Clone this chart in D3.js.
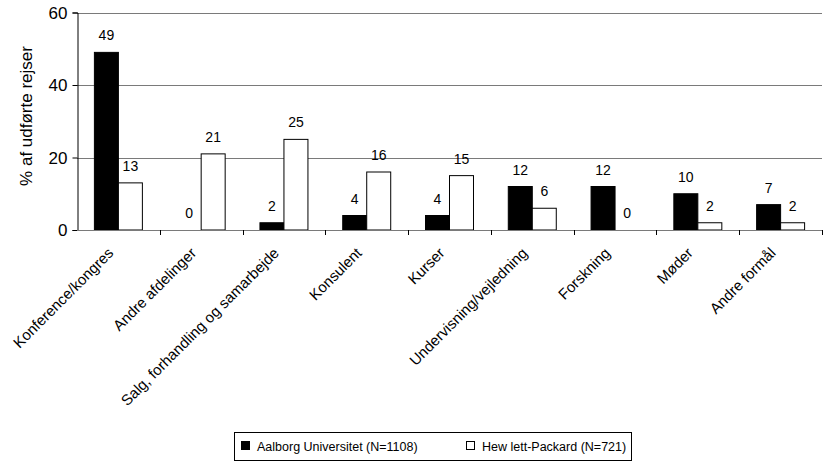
<!DOCTYPE html>
<html>
<head>
<meta charset="utf-8">
<script src="https://cdn.jsdelivr.net/npm/d3@7"></script>
<style>
  body { margin: 0; background: #fff; }
  text { font-family: "Liberation Sans", Arial, sans-serif; fill: #000; }
</style>
</head>
<body>
<div id="chart"></div>
<script>
// formål med rejser - grouped bars, two series

var categories = ["Konference/kongres", "Andre afdelinger", "Salg, forhandling og samarbejde",
                  "Konsulent", "Kurser", "Undervisning/vejledning", "Forskning", "Møder", "Andre formål"];
var seriesNames = ["Aalborg Universitet (N=1108)", "Hew lett-Packard (N=721)"];
var aau = [49, 0, 2, 4, 4, 12, 12, 10, 7];
var hp  = [13, 21, 25, 16, 15, 6, 0, 2, 2];
var yTicks = [0, 20, 40, 60];
var fills = ["#000", "#fff"];

var width = 824,
    height = 462;

var svg = d3.select("#chart").append("svg")
    .attr("width", width)
    .attr("height", height);

var x = d3.scaleBand()
    .domain(categories)
    .range([77, 822]);

var xs = d3.scaleBand()
    .domain([0, 1])
    .range([0, x.bandwidth()])
    .paddingOuter(0.725);

var y = d3.scaleLinear()
    .domain([0, 60])
    .range([230, 12.5]);

// gridlines
svg.append("g")
   .selectAll("line")
   .data(yTicks.filter(function(d) { return d > 0; }))
   .enter().append("line")
   .attr("x1", 77).attr("x2", 822)
   .attr("y1", function(d) { return Math.round(y(d)) + 0.5; })
   .attr("y2", function(d) { return Math.round(y(d)) + 0.5; })
   .attr("stroke", "#7a7a7a");

// rows of data for bars
var rows = [];
categories.forEach(function(c, i) {
    rows.push({cat: c, s: 0, v: aau[i]});
    rows.push({cat: c, s: 1, v: hp[i]});
});

svg.append("g")
   .selectAll("rect")
   .data(rows.filter(function(d) { return d.v > 0; }))
   .enter().append("rect")
   .attr("x", function(d) { return x(d.cat) + xs(d.s); })
   .attr("y", function(d) { return y(d.v); })
   .attr("width", xs.bandwidth())
   .attr("height", function(d) { return y(0) - y(d.v); })
   .attr("fill", function(d) { return fills[d.s]; })
   .attr("stroke", "#000")
   .attr("stroke-width", 1);

// value labels
svg.append("g")
   .selectAll("text")
   .data(rows)
   .enter().append("text")
   .attr("x", function(d) { return x(d.cat) + xs(d.s) + xs.bandwidth() / 2; })
   .attr("y", function(d) { return y(d.v) - 12; })
   .attr("text-anchor", "middle")
   .style("font-size", "14px")
   .text(function(d) { return d.v; });

// y axis
var yAxis = svg.append("g")
   .attr("transform", "translate(77.5,0)")
   .call(d3.axisLeft(y).tickValues(yTicks).tickSize(5).tickPadding(5));
yAxis.selectAll("text").style("font-size", "17px").attr("dy", "0.35em");
yAxis.select(".domain").attr("stroke", "#000");

// x axis: grey baseline, ticks between categories
svg.append("line")
   .attr("x1", 77).attr("x2", 822)
   .attr("y1", 230.5).attr("y2", 230.5)
   .attr("stroke", "#7a7a7a");

svg.append("g")
   .selectAll("line")
   .data(categories)
   .enter().append("line")
   .attr("x1", function(d) { return Math.round(x(d) + x.bandwidth()) + 0.5; })
   .attr("x2", function(d) { return Math.round(x(d) + x.bandwidth()) + 0.5; })
   .attr("y1", 230).attr("y2", 235)
   .attr("stroke", "#000");

// rotated category labels
svg.append("g")
   .selectAll("text")
   .data(categories)
   .enter().append("text")
   .attr("transform", function(d) {
       return "translate(" + (x(d) + x.bandwidth() / 2 - 4) + ",254) rotate(-45)";
   })
   .attr("text-anchor", "end")
   .style("font-size", "15px")
   .text(function(d) { return d; });

// y axis title
svg.append("text")
   .attr("transform", "translate(32,116) rotate(-90)")
   .attr("text-anchor", "middle")
   .style("font-size", "17px")
   .text("% af udførte rejser");

// legend
var legend = svg.append("g");
legend.append("rect")
   .attr("x", 234.5).attr("y", 432.5)
   .attr("width", 397).attr("height", 28)
   .attr("fill", "#fff")
   .attr("stroke", "#000");

var legendX = [241, 466];
seriesNames.forEach(function(name, i) {
    legend.append("rect")
       .attr("x", legendX[i] + 0.5).attr("y", 441.5)
       .attr("width", 8).attr("height", 8)
       .attr("fill", fills[i])
       .attr("stroke", "#000");
    legend.append("text")
       .attr("x", legendX[i] + 16)
       .attr("y", 450.5)
       .style("font-size", "12.5px")
       .text(name);
});
</script>
</body>
</html>
